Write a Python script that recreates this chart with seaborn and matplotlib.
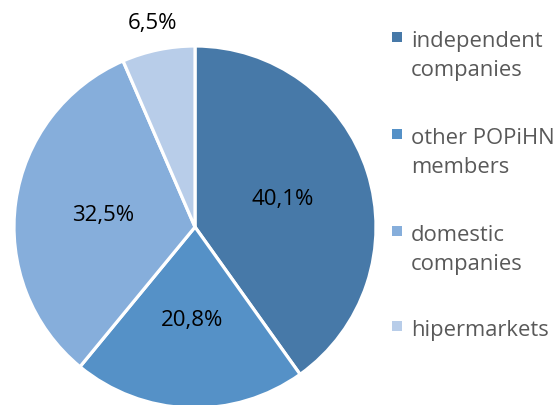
import matplotlib.pyplot as plt
import seaborn as sns
from matplotlib.patches import Rectangle
import numpy as np

# data
categories = ['independent\ncompanies', 'other POPiHN\nmembers', 'domestic\ncompanies', 'hipermarkets']
shares = [40.1, 20.8, 32.5, 6.5]
colors = ['#4779A8', '#5591C7', '#86AEDB', '#B8CDE9']

sns.set_theme(style='white')
plt.rcParams['font.family'] = ['Open Sans', 'DejaVu Sans']

W, H = 557, 406
fig = plt.figure(figsize=(W / 100, H / 100), dpi=100)

# pie axes: centre (195, 228) px, radius 181 px
cx, cy, R = 195, 228, 181
ax = fig.add_axes([(cx - R) / W, (H - cy - R) / H, 2 * R / W, 2 * R / H])
pal = sns.color_palette(colors)
wedges, _ = ax.pie(shares, colors=pal, startangle=90, counterclock=False,
                   radius=1, wedgeprops=dict(edgecolor='white', linewidth=2.3))
for w in wedges:
    w.set_clip_on(False)
ax.set_xlim(-1, 1)
ax.set_ylim(-1, 1)
ax.set_aspect('equal')
ax.axis('off')

for w, v in zip(wedges, shares):
    mid = np.deg2rad((w.theta1 + w.theta2) / 2)
    r = 1.155 if v < 10 else 0.51
    ax.text(r * np.cos(mid), r * np.sin(mid), f'{v:.1f}'.replace('.', ',') + '%',
            ha='center', va='center', fontsize=16, color='black', clip_on=False)

# legend drawn by hand (square aligned with first line)
leg_y = [38, 135, 232, 327]
for lab, c, y in zip(categories, pal, leg_y):
    fig.add_artist(Rectangle((392 / W, 1 - (y + 5) / H), 10 / W, 10 / H,
                             transform=fig.transFigure, color=c, lw=0))
    for k, line in enumerate(lab.split('\n')):
        fig.text(411 / W, 1 - (y + 9 + 29 * k) / H, line, fontsize=15.8,
                 color='#595959', ha='left', va='baseline')

fig.savefig('out.png', dpi=100)
